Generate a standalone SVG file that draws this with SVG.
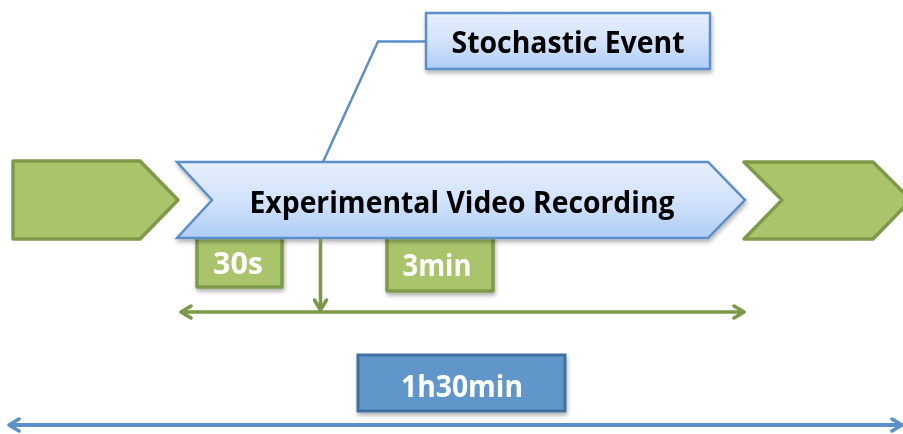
<svg xmlns="http://www.w3.org/2000/svg" width="903" height="434" viewBox="0 0 903 434">
<defs>
<linearGradient id="gBlue" x1="0" y1="0" x2="0" y2="1">
<stop offset="0" stop-color="#e6effc"/>
<stop offset="0.5" stop-color="#d3e3fa"/>
<stop offset="1" stop-color="#aecdf6"/>
</linearGradient>
<filter id="sh" x="-10%" y="-10%" width="125%" height="140%">
<feGaussianBlur in="SourceAlpha" stdDeviation="2"/>
<feOffset dx="1" dy="3" result="b"/>
<feComponentTransfer><feFuncA type="linear" slope="0.3"/></feComponentTransfer>
<feMerge><feMergeNode/><feMergeNode in="SourceGraphic"/></feMerge>
</filter>
<marker id="gArr" viewBox="0 0 14 16" refX="12" refY="8" markerWidth="14" markerHeight="16" markerUnits="userSpaceOnUse" orient="auto-start-reverse">
<path d="M2,2 L12,8 L2,14" fill="none" stroke="#7a9845" stroke-width="3.5" stroke-linecap="round" stroke-linejoin="round"/>
</marker>
<marker id="bArr" viewBox="0 0 14 16" refX="12" refY="8" markerWidth="14" markerHeight="16" markerUnits="userSpaceOnUse" orient="auto-start-reverse">
<path d="M2,2 L12,8 L2,14" fill="none" stroke="#5b8fc9" stroke-width="3.5" stroke-linecap="round" stroke-linejoin="round"/>
</marker>
</defs>
<style>
.green{fill:#a9c46a;stroke:#7d9a48;stroke-width:3.5;stroke-linejoin:round}
.blue{fill:url(#gBlue);stroke:#5b8fc9;stroke-width:2.5}
.t{font-family:"Open Sans","Liberation Sans",sans-serif;font-weight:bold;text-anchor:middle}
.dark{fill:#000}
.white{fill:#fff}
.gline{stroke:#7a9845;stroke-width:3.5;fill:none}
</style>

<g id="prev">
<polygon class="green" points="13,161 140,161 178,200 140,239 13,239"/>
</g>
<g id="next">
<polygon class="green" points="744,162 873,162 911,200 873,239 744,239 782,200"/>
</g>

<g id="box30s" filter="url(#sh)">
<rect class="green" x="197" y="232" width="85" height="55"/>
<text class="t white" x="238" y="274" font-size="30" textLength="50" lengthAdjust="spacingAndGlyphs">30s</text>
</g>
<g id="box3min" filter="url(#sh)">
<rect class="green" x="387" y="232" width="106" height="59"/>
<text class="t white" x="437" y="276" font-size="30" textLength="69" lengthAdjust="spacingAndGlyphs">3min</text>
</g>

<g id="recording" filter="url(#sh)">
<polygon class="blue" points="177,162 708,162 745,200 708,238 177,238 212,200"/>
<text class="t dark" x="462" y="213" font-size="30" textLength="425" lengthAdjust="spacingAndGlyphs">Experimental Video Recording</text>
</g>

<g id="connectors">
<polyline points="426,41.5 378,41.5 323,162" fill="none" stroke="#5b8fc9" stroke-width="2.5"/>
<line class="gline" x1="320.5" y1="239" x2="320.5" y2="310" marker-end="url(#gArr)"/>
<line class="gline" x1="181" y1="312" x2="744" y2="312" marker-start="url(#gArr)" marker-end="url(#gArr)"/>
<line x1="9" y1="425" x2="902" y2="425" stroke="#5b8fc9" stroke-width="4" marker-start="url(#bArr)" marker-end="url(#bArr)"/>
</g>

<g id="stochastic" filter="url(#sh)">
<rect class="blue" x="426" y="13" width="284" height="56"/>
<text class="t dark" x="568" y="53" font-size="30" textLength="233" lengthAdjust="spacingAndGlyphs">Stochastic Event</text>
</g>

<g id="duration" filter="url(#sh)">
<rect x="358" y="355" width="207" height="56" fill="#6196c9" stroke="#41709f" stroke-width="3"/>
<text class="t white" x="462" y="397" font-size="30" textLength="122" lengthAdjust="spacingAndGlyphs">1h30min</text>
</g>
</svg>
